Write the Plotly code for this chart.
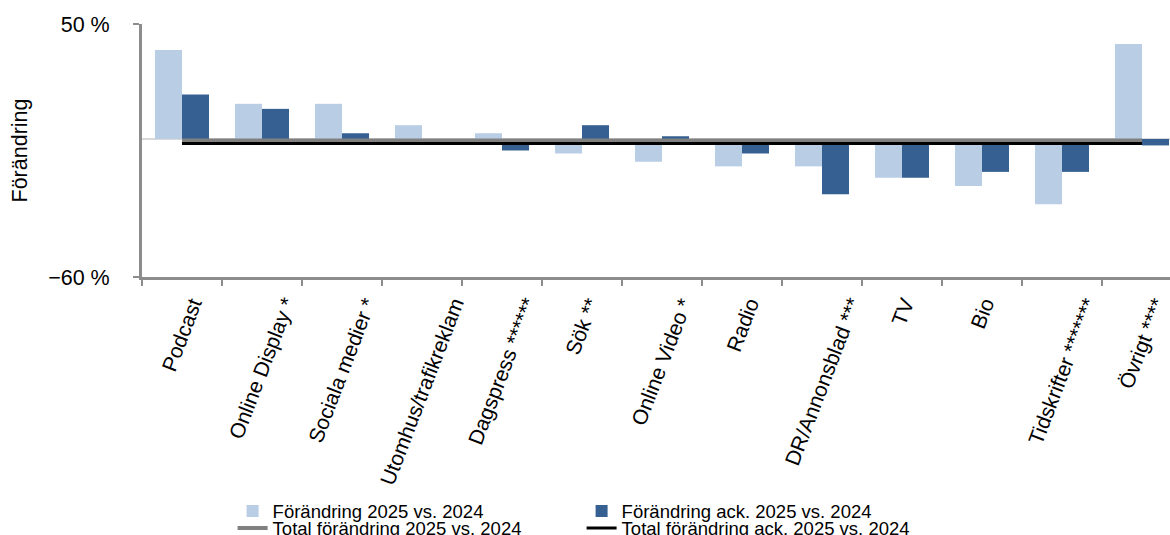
import plotly.graph_objects as go

categories = ["Podcast", "Online Display *", "Sociala medier *", "Utomhus/trafikreklam",
              "Dagspress ******", "Sök **", "Online Video *", "Radio", "DR/Annonsblad ***",
              "TV", "Bio", "Tidskrifter *******", "Övrigt ****"]
change_2025 = [38.7, 15.3, 15.3, 6.0, 2.5, -6.3, -9.9, -11.9, -11.9, -16.9, -20.4, -28.4, 41.3]
change_acc_2025 = [19.3, 13.1, 2.5, 0.0, -5.0, 6.0, 1.2, -6.3, -24.0, -16.9, -14.3, -14.3, -2.8]
total_2025 = -0.6
total_acc_2025 = -2.0

ytick_vals = [50, -60]
ytick_text = ["50 %", "−60 %"]

FONT = "Liberation Sans, Arial, sans-serif"
AXIS_GRAY = "#8C8C8C"
GRID_GRAY = "#D9D9D9"

fig = go.Figure()
fig.add_trace(go.Bar(x=categories, y=change_2025, name="Förändring 2025 vs. 2024",
                     marker=dict(color="#B9CDE5", line=dict(width=0)), legend="legend"))
fig.add_trace(go.Bar(x=categories, y=change_acc_2025, name="Förändring ack. 2025 vs. 2024",
                     marker=dict(color="#366092", line=dict(width=0)), legend="legend"))
fig.add_trace(go.Scatter(x=categories, y=[total_2025] * len(categories), mode="lines",
                         name="Total förändring 2025 vs. 2024",
                         line=dict(color="#808080", width=4), legend="legend2"))
fig.add_trace(go.Scatter(x=categories, y=[total_acc_2025] * len(categories), mode="lines",
                         name="Total förändring ack. 2025 vs. 2024",
                         line=dict(color="#000000", width=3), legend="legend2"))

# Category labels: rotated, each centred under its category and top-aligned (as in the reference)
for cat in categories:
    fig.add_annotation(x=cat, xref="x", y=0, yref="paper", text=cat, showarrow=False,
                       textangle=-69, xanchor="center", yanchor="top", yshift=-17,
                       font=dict(family=FONT, size=21, color="#000000"), borderpad=0)

legend_common = dict(orientation="h", xref="container", yref="container",
                     xanchor="left", yanchor="middle",
                     entrywidth=304, entrywidthmode="pixels",
                     font=dict(family=FONT, size=18.5, color="#000000"),
                     bgcolor="rgba(0,0,0,0)", borderwidth=0, traceorder="normal")

fig.update_layout(
    width=1170, height=535,
    margin=dict(l=142, r=0, t=24, b=258, autoexpand=False),
    paper_bgcolor="white", plot_bgcolor="white",
    barmode="group", bargap=0.325, bargroupgap=0,
    font=dict(family=FONT, size=21, color="#000000"),
    legend=dict(x=0.1988, y=1 - 511.5 / 535, **legend_common),
    legend2=dict(x=0.1988, y=1 - 528.5 / 535, **legend_common),
    xaxis=dict(type="category", range=[-0.5, -0.5 + 1028 / 80],
               showline=True, linecolor=AXIS_GRAY, linewidth=3,
               ticks="outside", tickson="boundaries", ticklen=6, tickwidth=2, tickcolor=AXIS_GRAY,
               showticklabels=False, showgrid=False),
    yaxis=dict(range=[-60, 50], tickvals=ytick_vals, ticktext=ytick_text,
               showline=True, linecolor=AXIS_GRAY, linewidth=3,
               ticks="outside", ticklen=6, tickwidth=2, tickcolor=AXIS_GRAY,
               ticklabelstandoff=19,
               showgrid=True, gridcolor=GRID_GRAY, gridwidth=2,
               zeroline=True, zerolinecolor=GRID_GRAY, zerolinewidth=2,
               title=dict(text="Förändring", font=dict(size=21.5), standoff=15),
               tickfont=dict(size=21.5)),
)

fig.write_html("out.html")
